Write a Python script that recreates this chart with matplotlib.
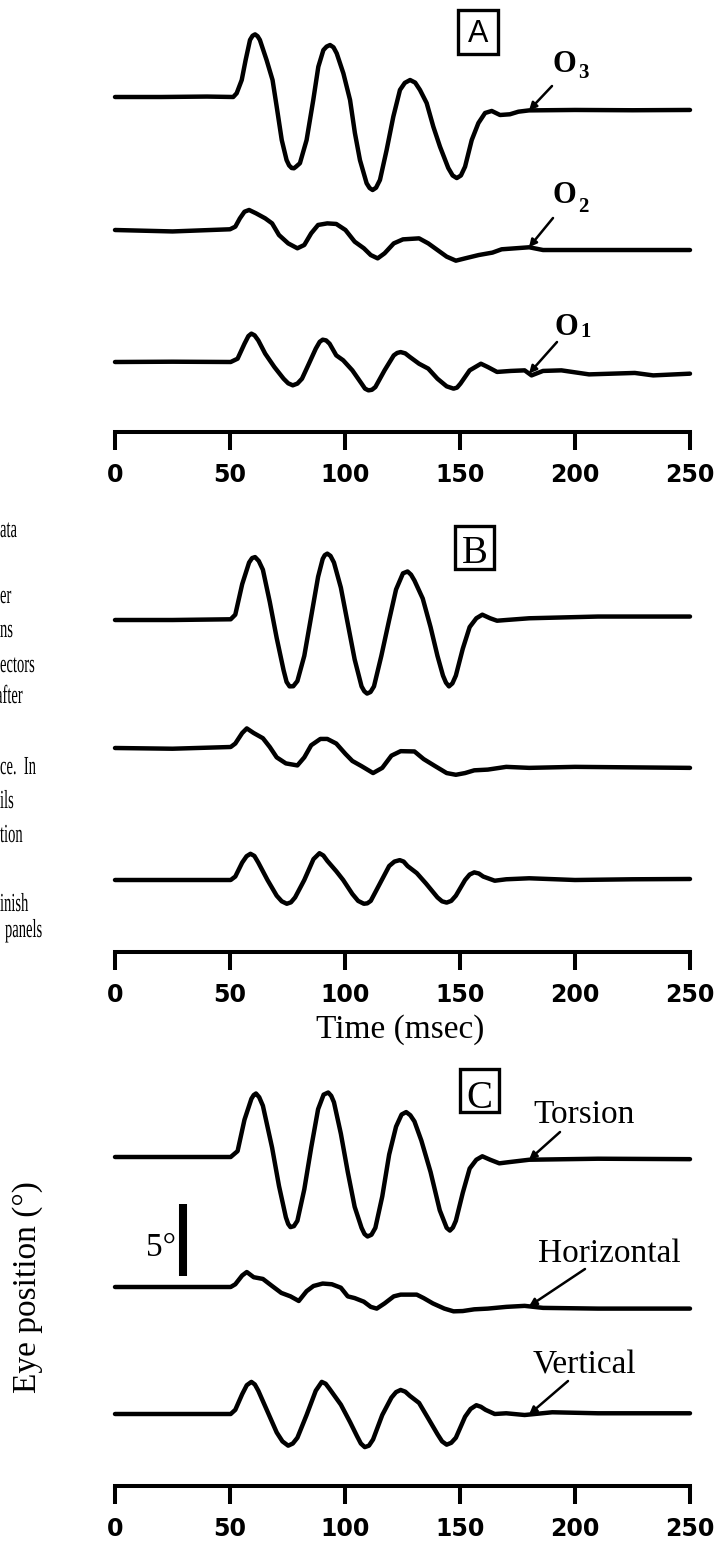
import numpy as np
import matplotlib.pyplot as plt
from matplotlib.font_manager import FontProperties
from matplotlib.patches import PathPatch, Rectangle
from matplotlib.textpath import TextPath
from matplotlib.transforms import Affine2D

# Panel A: ocular rotation components (deg) against time (msec)
a_o3_t = [0, 20, 40, 51.4, 52.9, 55.1, 56.8, 58.7, 59.8, 60.9, 62.0, 63.0, 65.9, 68.5, 70.3, 72.5,
          74.6, 75.7, 76.8, 77.8, 78.7, 80.4, 83.3, 86.2, 88.4, 90.6, 92.0, 93.5, 95.0, 96.4, 99.3,
          102.2, 104.3, 106.5, 109.4, 110.7, 112.0, 113.5, 115.2, 118.1, 121.0, 123.9, 126.0,
          128.3, 130.5, 132.6, 135.5, 138.4, 141.3, 144.9, 146.8, 148.6, 150.4, 152.2, 155.1,
          158.0, 160.9, 163.8, 167.4, 171.7, 175.4, 180, 200, 225, 250]
a_o3 = [0, 0, 0.03, 0, 0.26, 1.18, 2.57, 3.96, 4.25, 4.35, 4.22, 3.96, 2.57, 1.18, -0.67, -2.99,
        -4.38, -4.75, -4.93, -4.95, -4.84, -4.6, -2.99, -0.21, 2.1, 3.26, 3.5, 3.61, 3.45, 3.03,
        1.64, -0.21, -2.5, -4.38, -5.99, -6.32, -6.46, -6.3, -5.76, -3.68, -1.37, 0.49, 0.98,
        1.18, 1.0, 0.49, -0.42, -2.06, -3.45, -4.93, -5.45, -5.63, -5.45, -4.84, -2.99, -1.81,
        -1.11, -0.97, -1.25, -1.2, -1.02, -0.93, -0.9, -0.92, -0.9]

a_o2_t = [0, 25, 50, 52.3, 54.3, 56.3, 58.3, 61.3, 65.3, 68.3, 71.3, 75.3, 79.3, 82.3, 85.3, 88.3,
          92.3, 96.2, 100.2, 104.2, 108.2, 111.2, 114.2, 117.2, 121.2, 125.2, 132.2, 136.2, 140.2,
          144.2, 148.2, 152.2, 158.1, 164.1, 168.1, 174.1, 180.1, 186.1, 210, 250]
a_o2 = [0, -0.1, 0.05, 0.23, 0.81, 1.27, 1.39, 1.16, 0.81, 0.46, -0.35, -0.93, -1.27, -1.04, -0.23,
        0.35, 0.46, 0.42, 0, -0.81, -1.27, -1.74, -1.97, -1.62, -0.93, -0.65, -0.58, -0.93, -1.39,
        -1.85, -2.13, -1.97, -1.74, -1.57, -1.34, -1.27, -1.2, -1.39, -1.39, -1.39]

a_o1_t = [0, 25, 50.3, 53.3, 56.3, 58.0, 59.3, 60.7, 62.3, 65.3, 69.3, 73.3, 75.3, 77.3, 79.3,
          81.3, 84.3, 87.3, 89.0, 90.3, 91.8, 93.3, 96.2, 99.2, 103.2, 107.2, 108.7, 110.2, 111.7,
          113.2, 117.2, 121.2, 122.7, 124.2, 126.2, 128.2, 132.2, 136.2, 140.2, 144.2, 147.2,
          148.7, 150.2, 154.2, 159.1, 162.1, 166.1, 172.1, 178.1, 181.1, 186.1, 194.1, 206.1,
          216, 226, 234, 250]
a_o1 = [0, 0.02, 0, 0.23, 1.27, 1.8, 1.97, 1.85, 1.5, 0.58, -0.35, -1.16, -1.48, -1.62, -1.5,
        -1.16, -0.12, 0.93, 1.4, 1.55, 1.5, 1.27, 0.46, 0.12, -0.58, -1.5, -1.85, -1.97, -1.93,
        -1.74, -0.58, 0.46, 0.63, 0.69, 0.6, 0.35, -0.12, -0.46, -1.16, -1.69, -1.85, -1.78,
        -1.5, -0.58, -0.12, -0.35, -0.69, -0.62, -0.58, -0.93, -0.62, -0.58, -0.86, -0.81,
        -0.76, -0.93, -0.81]

# Panel B: same components, second condition
b_top_t = [0, 25, 50.3, 52.3, 55.3, 58.3, 59.6, 60.9, 62.5, 64.3, 67.3, 70.3, 73.3, 74.6, 75.9,
           77.5, 79.3, 82.3, 85.3, 88.3, 90.3, 91.2, 92.3, 93.7, 95.2, 98.2, 101.2, 104.2, 107.2,
           108.4, 109.6, 111.1, 112.6, 115.8, 119.2, 122.2, 125.2, 127.2, 128.7, 130.2, 133.8,
           137.2, 140.2, 142.6, 143.9, 145.2, 146.7, 148.2, 151.2, 154.2, 157.1, 159.7, 163.1,
           166.1, 170.1, 180.1, 210, 250]
b_top = [0, 0, 0.05, 0.37, 2.49, 3.99, 4.3, 4.37, 4.1, 3.49, 1.25, -1.25, -3.49, -4.3, -4.61,
         -4.6, -4.24, -2.49, 0.25, 3.0, 4.24, 4.5, 4.61, 4.45, 3.99, 2.25, -0.25, -2.74, -4.61,
         -4.95, -5.11, -5.0, -4.61, -2.49, 0, 2.12, 3.24, 3.37, 3.15, 2.74, 1.49, -0.49, -2.49,
         -3.86, -4.35, -4.61, -4.4, -3.86, -2.0, -0.49, 0.12, 0.37, 0.12, -0.05, 0, 0.12, 0.24,
         0.24]

b_mid_t = [0, 25, 50.3, 52.3, 55.3, 57.3, 60.3, 64.3, 67.3, 70.3, 74.3, 79.3, 82.3, 85.3, 89.3,
           92.3, 96.2, 100.2, 103.2, 107.2, 112.2, 116.2, 120.2, 124.2, 130.2, 134.2, 139.2, 144.2,
           148.2, 152.2, 156.2, 162.1, 170.1, 180.1, 200, 250]
b_mid = [0, -0.05, 0.07, 0.31, 1.04, 1.36, 1.04, 0.68, 0.07, -0.65, -1.07, -1.21, -0.65, 0.19,
         0.63, 0.63, 0.31, -0.41, -0.9, -1.26, -1.74, -1.38, -0.53, -0.22, -0.24, -0.77, -1.26,
         -1.74, -1.86, -1.74, -1.55, -1.5, -1.31, -1.38, -1.31, -1.38]

b_bot_t = [0, 25, 50.3, 52.3, 55.3, 57.2, 58.9, 60.6, 62.3, 66.3, 70.3, 72.5, 74.7, 76.5, 78.3,
           82.3, 86.3, 88.9, 90.6, 92.3, 96.2, 99.2, 103.2, 105.7, 108.2, 109.7, 111.2, 115.2,
           119.2, 121.5, 123.8, 125.5, 127.2, 131.2, 135.2, 140.2, 142.2, 144.2, 146.2, 148.2,
           152.2, 154.2, 156.2, 158.2, 160.1, 165.1, 170.1, 180.1, 200, 225, 250]
b_bot = [0, 0, 0, 0.24, 1.21, 1.65, 1.82, 1.67, 1.21, 0, -1.09, -1.48, -1.65, -1.55, -1.21, 0,
         1.45, 1.86, 1.7, 1.33, 0.61, 0, -0.97, -1.45, -1.65, -1.62, -1.45, -0.24, 0.97, 1.28,
         1.38, 1.28, 0.97, 0.48, -0.24, -1.21, -1.48, -1.57, -1.45, -1.09, 0, 0.38, 0.53, 0.45,
         0.24, -0.05, 0.05, 0.12, 0.0, 0.05, 0.07]

# Panel C: measured eye position
torsion_t = [0, 25, 50.3, 53.3, 56.3, 59.3, 60.3, 61.3, 62.7, 64.3, 68.3, 71.3, 74.3, 75.3, 76.3,
             77.8, 79.3, 82.3, 85.3, 88.3, 90.7, 92.7, 94.0, 95.2, 98.2, 101.2, 104.2, 107.2,
             108.5, 109.8, 111.5, 113.2, 116.2, 119.2, 122.2, 124.6, 126.6, 128.4, 130.2, 133.2,
             137.2, 141.2, 144.2, 145.6, 146.9, 148.2, 151.2, 154.2, 157.1, 159.7, 163.1, 167.1,
             171.1, 180.1, 210, 250]
torsion = [0, 0, 0, 0.41, 2.59, 4.04, 4.3, 4.41, 4.15, 3.56, 0.65, -2.01, -4.19, -4.65, -4.87,
           -4.8, -4.43, -2.25, 0.65, 3.32, 4.33, 4.48, 4.25, 3.8, 1.62, -1.04, -3.46, -4.92,
           -5.35, -5.52, -5.4, -4.92, -2.74, 0.17, 2.11, 2.95, 3.12, 2.9, 2.47, 1.14, -1.04,
           -3.7, -4.92, -5.11, -4.9, -4.43, -2.49, -0.8, -0.19, 0.05, -0.19, -0.44, -0.36,
           -0.19, -0.12, -0.15]

horizontal_t = [0, 25, 50.3, 52.3, 55.3, 57.3, 60.3, 64.3, 68.3, 72.3, 76.3, 79.9, 83.3, 86.3,
                90.3, 94.3, 98.2, 101.2, 104.2, 108.2, 111.2, 113.8, 117.2, 121.2, 124.2, 131.2,
                134.2, 138.2, 143.2, 147.2, 151.2, 156.2, 162.1, 170.1, 178.1, 186.1, 210, 250]
horizontal = [0, 0, 0, 0.19, 0.8, 1.04, 0.68, 0.56, 0.07, -0.41, -0.65, -0.97, -0.29, 0.07, 0.24,
              0.19, -0.05, -0.65, -0.77, -1.02, -1.38, -1.5, -1.14, -0.65, -0.53, -0.53, -0.77,
              -1.14, -1.5, -1.69, -1.67, -1.55, -1.5, -1.38, -1.31, -1.45, -1.5, -1.5]

vertical_t = [0, 25, 50.3, 52.3, 55.3, 57.3, 59.3, 60.8, 62.3, 66.3, 70.3, 72.8, 75.3, 77.3, 79.3,
              83.3, 87.3, 89.9, 91.6, 93.3, 98.2, 102.2, 105.2, 106.9, 108.6, 110.4, 112.2, 116.2,
              120.2, 122.2, 124.2, 126.2, 128.2, 132.2, 136.2, 140.2, 142.2, 144.2, 146.2, 148.2,
              152.2, 154.6, 157.1, 159.1, 161.1, 165.1, 170.1, 178.1, 190.1, 210, 250]
vertical = [0, 0, 0, 0.29, 1.38, 2.0, 2.23, 2.05, 1.62, 0.17, -1.28, -1.9, -2.2, -2.05, -1.65,
            -0.07, 1.62, 2.23, 2.1, 1.74, 0.65, -0.56, -1.53, -2.05, -2.3, -2.2, -1.77, -0.07,
            1.14, 1.52, 1.67, 1.55, 1.26, 0.77, -0.31, -1.4, -1.9, -2.13, -2.0, -1.65, -0.19,
            0.35, 0.61, 0.5, 0.29, 0, 0.05, -0.07, 0.12, 0.05, 0.05]

time_ticks = [0, 50, 100, 150, 200, 250]
scale_deg = 5

# cut-off lines of the neighbouring caption column
caption_bits = ['ata', 'er', 'ns', 'ectors', 'after', 'ce.  In', 'ils', 'tion', 'inish', 'panels']

W, H = 722, 1550
PX_PER_DEG = 14.4
X0, X1 = 115, 690
SERIF = 'Liberation Serif'
LW = 3.2

fig = plt.figure(figsize=(W / 100, H / 100), dpi=100)
page = fig.add_axes([0, 0, 1, 1])
page.set_xlim(0, W)
page.set_ylim(H, 0)
page.axis('off')


def panel(axis_px, top_px):
    ax = fig.add_axes([X0 / W, 1 - axis_px / H, (X1 - X0) / W, (axis_px - top_px) / H])
    ax.patch.set_visible(False)
    ax.set_xlim(0, 250)
    ax.set_ylim(0, (axis_px - top_px) / PX_PER_DEG)
    for side in ('top', 'left', 'right'):
        ax.spines[side].set_visible(False)
    ax.spines['bottom'].set_linewidth(2.9)
    ax.set_yticks([])
    ax.set_xticks(time_ticks)
    ax.set_xticklabels([str(v) for v in time_ticks],
                       fontfamily='DejaVu Sans', fontweight='bold', fontsize=17)
    ax.tick_params(axis='x', direction='out', length=13, width=2.9, pad=9)
    return ax


def trace(ax, axis_px, base_px, t, v):
    off = (axis_px - base_px) / PX_PER_DEG
    ax.plot(t, np.asarray(v) + off, color='k', lw=LW, solid_joinstyle='round',
            solid_capstyle='round', clip_on=False)
    return off


def pointer(ax, t, v, off, start_px):
    y_end = np.interp(180, t, v) + off
    ax.annotate('', xy=(180, y_end), xycoords='data',
                xytext=(start_px[0], H - start_px[1]), textcoords='figure pixels',
                arrowprops=dict(arrowstyle='-|>', lw=1.8, color='k', mutation_scale=11,
                                shrinkA=0, shrinkB=0))


def boxed(left, right, top, bottom, letter, baseline, family, size):
    page.add_patch(Rectangle((left, top), right - left, bottom - top, fill=False,
                             lw=2.4, ec='k'))
    page.text((left + right) / 2, baseline, letter, family=family, fontsize=size,
              ha='center', va='baseline')


def subscripted(x, baseline, sub, sub_baseline):
    page.text(x, baseline, 'O', family=SERIF, fontweight='bold', fontsize=22,
              ha='left', va='baseline')
    page.text(x + 26, sub_baseline, sub, family=SERIF, fontweight='bold', fontsize=15,
              ha='left', va='baseline')


def squeezed(text, x, baseline, size=26, sx=0.56):
    path = TextPath((0, 0), text, size=size, prop=FontProperties(family=SERIF))
    tr = Affine2D().scale(sx, -1).translate(x, baseline) + page.transData
    page.add_patch(PathPatch(path, transform=tr, fc='k', ec='none'))


# panel A
ax_a = panel(432, 0)
off3 = trace(ax_a, 432, 97, a_o3_t, a_o3)
off2 = trace(ax_a, 432, 230, a_o2_t, a_o2)
off1 = trace(ax_a, 432, 362, a_o1_t, a_o1)
pointer(ax_a, a_o3_t, a_o3, off3, (552, 86))
pointer(ax_a, a_o2_t, a_o2, off2, (553, 218))
pointer(ax_a, a_o1_t, a_o1, off1, (557, 342))
subscripted(552, 72, '3', 78)
subscripted(552, 203, '2', 212)
subscripted(554, 335, '1', 337)
boxed(458, 498, 10, 54, 'A', 42, 'Liberation Sans', 22)

# panel B
ax_b = panel(952, 500)
trace(ax_b, 952, 620, b_top_t, b_top)
trace(ax_b, 952, 748, b_mid_t, b_mid)
trace(ax_b, 952, 880, b_bot_t, b_bot)
boxed(455, 494, 526, 569, 'B', 563, SERIF, 28)
page.text(400, 1038, 'Time (msec)', family=SERIF, fontsize=24, ha='center', va='baseline')

# panel C
ax_c = panel(1486, 1040)
off_t = trace(ax_c, 1486, 1157, torsion_t, torsion)
off_h = trace(ax_c, 1486, 1287, horizontal_t, horizontal)
off_v = trace(ax_c, 1486, 1414, vertical_t, vertical)
pointer(ax_c, torsion_t, torsion, off_t, (560, 1132))
pointer(ax_c, horizontal_t, horizontal, off_h, (585, 1269))
pointer(ax_c, vertical_t, vertical, off_v, (568, 1381))
page.text(533, 1123, 'Torsion', family=SERIF, fontsize=24, ha='left', va='baseline')
page.text(538, 1262, 'Horizontal', family=SERIF, fontsize=24, ha='left', va='baseline')
page.text(533, 1373, 'Vertical', family=SERIF, fontsize=24, ha='left', va='baseline')
boxed(460, 499, 1069, 1112, 'C', 1108, SERIF, 28)

# 5 degree calibration bar
bar_t = (183 - X0) / (X1 - X0) * 250
bar_lo = (1486 - 1276) / PX_PER_DEG
ax_c.plot([bar_t, bar_t], [bar_lo, bar_lo + scale_deg], color='k', lw=5.8,
          solid_capstyle='butt', clip_on=False)
page.text(146, 1256, '5\u00b0', family=SERIF, fontsize=24, ha='left', va='baseline')
page.text(28, 1287, 'Eye position (\u00b0)', family=SERIF, fontsize=24, rotation=90,
          ha='center', va='center')

# caption fragments on the left edge
bit_pos = [(0, 537), (0, 603), (0, 637), (0, 672), (-4, 703), (0, 774), (0, 808),
           (0, 842), (0, 911), (5, 937)]
for s, (x, y) in zip(caption_bits, bit_pos):
    squeezed(s, x, y)

fig.savefig('out.png', dpi=100)
